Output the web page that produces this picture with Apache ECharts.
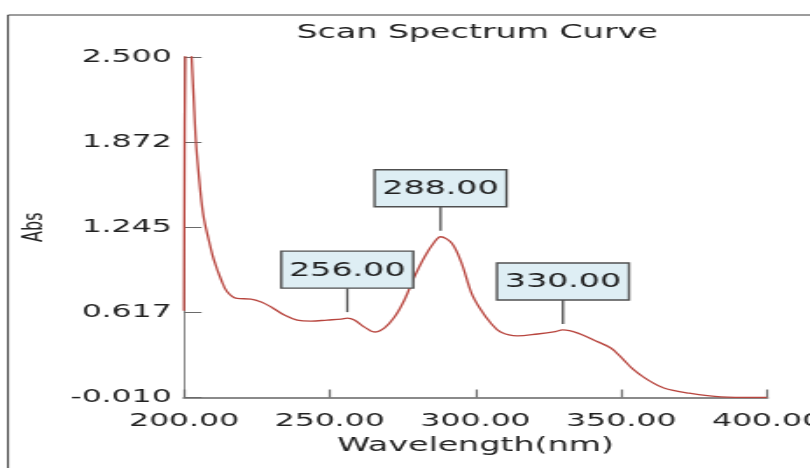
<!DOCTYPE html>
<html>
<head>
<meta charset="utf-8">
<script src="https://cdn.jsdelivr.net/npm/echarts@6/dist/echarts.min.js"></script>
<style>
html,body{margin:0;padding:0;background:#fff;overflow:hidden;width:810px;height:468px;}
#wrap{width:810px;height:468px;overflow:hidden;position:relative;}
#c{width:463px;height:468px;transform:scaleX(1.7495);transform-origin:0 0;}
</style>
</head>
<body>
<div id="wrap"><div id="c"></div></div>
<script>
// ---- data ----
const wavelengths = [200, 200.6, 201.5, 202.5, 203.3, 204.1, 205.2, 206.0, 206.9, 208.6, 210.3, 212.7, 214.8, 218.2, 223.0, 226.5, 229.9, 234.4, 238.8, 243.6, 249.1, 254.0, 256.0, 258.4, 261.9, 265.3, 268.7, 272.2, 275.6, 279.0, 282.5, 285.9, 288.0, 291.8, 295.2, 298.6, 301.7, 305.2, 308.6, 314.4, 321.3, 326.8, 330.0, 335.1, 340.5, 346.4, 349.8, 354.3, 359.1, 364.6, 372.9, 384.2, 395.5, 400];
const absorbance  = [0.63, 2.9, 3.0, 2.55, 2.2, 1.87, 1.6, 1.43, 1.30, 1.14, 1.00, 0.86, 0.77, 0.72, 0.716, 0.694, 0.657, 0.598, 0.561, 0.553, 0.561, 0.568, 0.575, 0.561, 0.509, 0.473, 0.502, 0.583, 0.709, 0.878, 1.026, 1.136, 1.175, 1.129, 0.981, 0.76, 0.64, 0.539, 0.473, 0.444, 0.458, 0.473, 0.488, 0.465, 0.414, 0.355, 0.289, 0.193, 0.120, 0.060, 0.023, -0.006, -0.01, -0.01];
const peakWavelengths = [256, 288, 330];
const peakLabels = ['256.00', '288.00', '330.00'];
const xTickLabels = ['200.00', '250.00', '300.00', '350.00', '400.00'];
const yTickLabels = ['-0.010', '0.617', '1.245', '1.872', '2.500'];
const xMin = 200, xMax = 400, xInterval = 50;
const yMin = -0.010, yMax = 2.500, yInterval = 0.6275;

// ---- layout (the chart is drawn in a 463px-wide box and stretched horizontally, as in the reference) ----
const S = 810 / 463;
const FONT = 'DejaVu Sans, Verdana, sans-serif';

const lineData = wavelengths.map((w, i) => [w, absorbance[i]]);
const peakData = peakWavelengths.map((w, i) => {
  const k = wavelengths.indexOf(w);
  return [w, absorbance[k], i];
});

const chart = echarts.init(document.getElementById('c'), null, {renderer: 'canvas'});
chart.setOption({
  animation: false,
  backgroundColor: '#ffffff',
  title: {
    text: 'Scan Spectrum Curve',
    left: 164.5, top: 19,
    textStyle: {fontFamily: FONT, fontSize: 19, fontWeight: 'normal', color: '#222'}
  },
  graphic: [{
    type: 'rect', silent: true, z: -1,
    shape: {x: 8 / S, y: 15, width: 470, height: 470},
    style: {fill: 'none', stroke: '#3a3a3a', lineWidth: 1}
  }],
  grid: {left: 184 / S, right: (810 - 767) / S, top: 57, bottom: 468 - 397.5,
    containLabel: false, outerBoundsMode: 'none'},
  xAxis: {
    type: 'value', min: xMin, max: xMax, interval: xInterval,
    name: 'Wavelength(nm)', nameLocation: 'middle', nameGap: 39,
    nameTextStyle: {fontFamily: FONT, fontSize: 19, color: '#222'},
    axisLine: {show: true, onZero: false, lineStyle: {color: '#8a8a8a', width: 2}},
    axisTick: {show: true, inside: true, length: 8, lineStyle: {color: '#6a6a6a', width: 1.2}},
    axisLabel: {margin: 15, fontFamily: FONT, fontSize: 18, color: '#222', hideOverlap: false,
      formatter: (v) => xTickLabels[Math.round((v - xMin) / xInterval)] || ''},
    splitLine: {show: false}
  },
  yAxis: {
    type: 'value', min: yMin, max: yMax, interval: yInterval,
    name: 'Abs', nameLocation: 'middle', nameGap: 77, nameRotate: 90,
    nameTextStyle: {fontFamily: FONT, fontSize: 16, color: '#222'},
    axisLine: {show: true, onZero: false, lineStyle: {color: '#8a8a8a', width: 1}},
    axisTick: {show: true, inside: true, length: 10, lineStyle: {color: '#6a6a6a', width: 1}},
    axisLabel: {margin: 7, fontFamily: FONT, fontSize: 18, color: '#222',
      formatter: (v) => yTickLabels[Math.round((v - yMin) / yInterval)] || ''},
    splitLine: {show: false}
  },
  series: [{
    type: 'line', data: lineData, showSymbol: false, symbol: 'none',
    smooth: 0.35, clip: true,
    lineStyle: {color: '#b8453e', width: 1.3}
  }, {
    type: 'custom', data: peakData, clip: false, z: 5,
    renderItem: function (params, api) {
      const p = api.coord([api.value(0), api.value(1)]);
      const x = p[0], y = p[1];
      const gap = 6, stem = 24, bw = 132 / S, bh = 37;
      const label = peakLabels[api.value(2)];
      return {
        type: 'group',
        children: [
          {type: 'line', shape: {x1: x, y1: y - gap, x2: x, y2: y - gap - stem},
           style: {stroke: '#505050', lineWidth: 1.3}},
          {type: 'rect', shape: {x: x - bw / 2, y: y - gap - stem - bh, width: bw, height: bh},
           style: {fill: '#deeef4', stroke: '#505050', lineWidth: 1.4}},
          {type: 'text', x: x, y: y - gap - stem - bh / 2 + 1,
           style: {text: label, align: 'center', verticalAlign: 'middle',
             fontFamily: FONT, fontSize: 19, fill: '#222'}}
        ]
      };
    }
  }]
});
</script>
</body>
</html>
